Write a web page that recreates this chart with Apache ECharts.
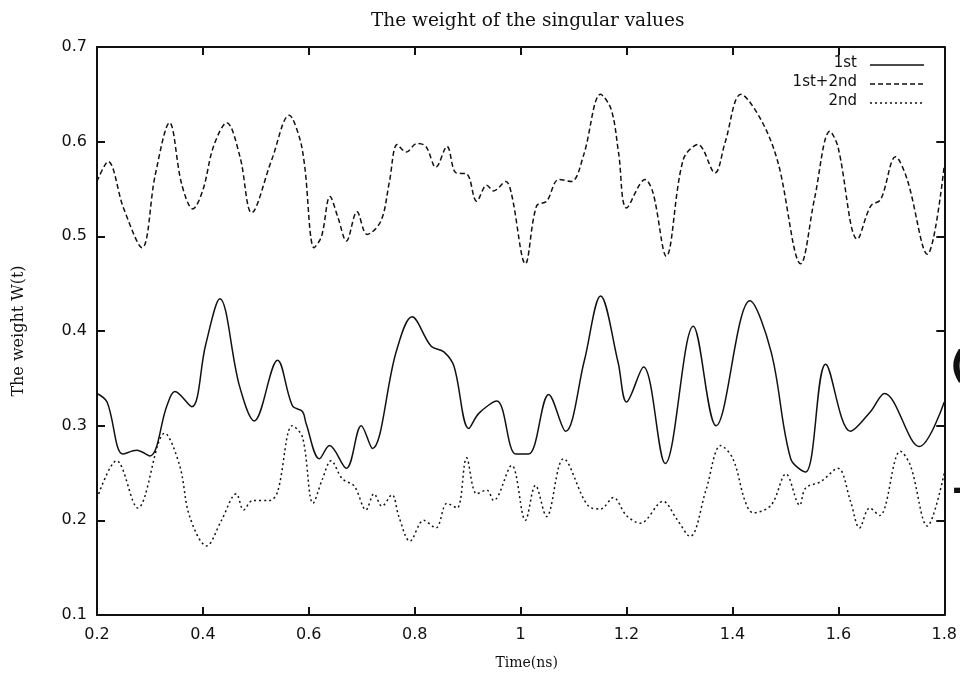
<!DOCTYPE html>
<html>
<head>
<meta charset="utf-8">
<script src="https://cdn.jsdelivr.net/npm/echarts@6/dist/echarts.min.js"></script>
<style>
  html, body { margin: 0; padding: 0; background: #fff; }
  #chart { width: 960px; height: 675px; }
</style>
</head>
<body>
<div id="chart"></div>
<script>
// Time samples (ns) and weights for each curve
const tSum = [0.2, 0.221, 0.25, 0.285, 0.31, 0.337, 0.36, 0.381, 0.4, 0.42, 0.445, 0.47, 0.492, 0.53, 0.563, 0.582, 0.592, 0.61, 0.624, 0.64, 0.655, 0.671, 0.691, 0.71, 0.736, 0.752, 0.767, 0.784, 0.804, 0.821, 0.84, 0.861, 0.878, 0.898, 0.917, 0.936, 0.949, 0.972, 0.983, 1.009, 1.03, 1.049, 1.072, 1.096, 1.119, 1.151, 1.171, 1.185, 1.2, 1.235, 1.25, 1.275, 1.307, 1.335, 1.367, 1.386, 1.416, 1.454, 1.486, 1.529, 1.555, 1.584, 1.599, 1.636, 1.661, 1.68, 1.708, 1.73, 1.768, 1.8];
const wSum = [0.558, 0.579, 0.53, 0.488, 0.565, 0.62, 0.555, 0.529, 0.549, 0.595, 0.62, 0.584, 0.525, 0.581, 0.628, 0.605, 0.575, 0.488, 0.5, 0.542, 0.52, 0.495, 0.526, 0.502, 0.516, 0.557, 0.597, 0.589, 0.598, 0.595, 0.573, 0.595, 0.567, 0.566, 0.537, 0.554, 0.548, 0.558, 0.544, 0.471, 0.532, 0.537, 0.56, 0.558, 0.586, 0.65, 0.634, 0.588, 0.53, 0.56, 0.546, 0.479, 0.581, 0.597, 0.567, 0.599, 0.65, 0.623, 0.578, 0.471, 0.54, 0.611, 0.595, 0.497, 0.532, 0.539, 0.584, 0.56, 0.481, 0.575];

const tFirst = [0.2, 0.219, 0.249, 0.275, 0.3, 0.332, 0.347, 0.379, 0.405, 0.432, 0.469, 0.497, 0.541, 0.569, 0.588, 0.595, 0.62, 0.639, 0.671, 0.699, 0.72, 0.765, 0.795, 0.831, 0.855, 0.874, 0.902, 0.921, 0.955, 0.991, 1.015, 1.053, 1.085, 1.12, 1.151, 1.184, 1.2, 1.232, 1.273, 1.326, 1.369, 1.433, 1.473, 1.51, 1.538, 1.576, 1.623, 1.661, 1.687, 1.753, 1.8];
const wFirst = [0.334, 0.325, 0.27, 0.274, 0.268, 0.321, 0.336, 0.32, 0.385, 0.434, 0.342, 0.305, 0.369, 0.321, 0.315, 0.302, 0.265, 0.279, 0.255, 0.3, 0.276, 0.378, 0.415, 0.384, 0.378, 0.363, 0.297, 0.313, 0.326, 0.27, 0.27, 0.333, 0.294, 0.368, 0.437, 0.367, 0.325, 0.362, 0.26, 0.405, 0.3, 0.432, 0.378, 0.265, 0.251, 0.365, 0.294, 0.315, 0.334, 0.278, 0.325];

const tSecond = [0.2, 0.237, 0.277, 0.328, 0.356, 0.375, 0.407, 0.435, 0.463, 0.477, 0.494, 0.526, 0.541, 0.569, 0.588, 0.608, 0.626, 0.642, 0.663, 0.686, 0.708, 0.723, 0.738, 0.757, 0.77, 0.791, 0.817, 0.84, 0.861, 0.88, 0.898, 0.917, 0.936, 0.949, 0.983, 1.009, 1.028, 1.049, 1.081, 1.128, 1.151, 1.175, 1.2, 1.226, 1.269, 1.294, 1.32, 1.35, 1.378, 1.401, 1.424, 1.439, 1.473, 1.501, 1.527, 1.538, 1.567, 1.599, 1.623, 1.64, 1.659, 1.678, 1.717, 1.736, 1.768, 1.8];
const wSecond = [0.223, 0.263, 0.213, 0.292, 0.258, 0.204, 0.173, 0.2, 0.228, 0.211, 0.221, 0.221, 0.23, 0.3, 0.288, 0.218, 0.244, 0.263, 0.244, 0.236, 0.211, 0.228, 0.215, 0.227, 0.204, 0.178, 0.2, 0.192, 0.218, 0.213, 0.266, 0.228, 0.232, 0.221, 0.258, 0.2, 0.237, 0.204, 0.265, 0.215, 0.212, 0.224, 0.205, 0.197, 0.22, 0.202, 0.183, 0.232, 0.279, 0.265, 0.22, 0.208, 0.216, 0.249, 0.216, 0.234, 0.241, 0.255, 0.22, 0.192, 0.213, 0.205, 0.273, 0.258, 0.194, 0.25];

const seriesNames = ['1st', '1st+2nd', '2nd'];
const dashFor = { '1st': 'solid', '1st+2nd': [5, 3], '2nd': [2, 3] };

const zip = (t, w) => t.map((x, i) => [x, w[i]]);
const ink = '#111';
const tickFmt = v => String(+v.toFixed(1));

const chart = echarts.init(document.getElementById('chart'));

function lineSeries(name, t, w) {
  return {
    name: name,
    type: 'line',
    data: zip(t, w),
    showSymbol: false,
    smooth: 0.35,
    lineStyle: { color: ink, width: 1.5, type: dashFor[name] },
    animation: false
  };
}

// legend block: label right-aligned, sample line to its right
const legendGraphics = [];
seriesNames.forEach((name, i) => {
  const y = 65 + i * 19;
  legendGraphics.push({
    type: 'text', right: 960 - 857, top: y - 9,
    style: { text: name, font: '15px "DejaVu Sans"', fill: ink, textAlign: 'right' }
  });
  legendGraphics.push({
    type: 'line',
    shape: { x1: 870, y1: y, x2: 924, y2: y },
    style: { stroke: ink, lineWidth: 1.3, lineDash: name === '1st' ? null : dashFor[name] }
  });
});

const baseX = {
  type: 'value', min: 0.2, max: 1.8, interval: 0.2,
  axisLine: { show: true, onZero: false, lineStyle: { color: ink, width: 2 } },
  axisTick: { show: true, inside: true, length: 8, lineStyle: { color: ink, width: 2 } },
  splitLine: { show: false }
};
const baseY = {
  type: 'value', min: 0.1, max: 0.7, interval: 0.1,
  axisLine: { show: true, onZero: false, lineStyle: { color: ink, width: 2 } },
  axisTick: { show: true, inside: true, length: 8, lineStyle: { color: ink, width: 2 } },
  splitLine: { show: false }
};

chart.setOption({
  backgroundColor: '#fff',
  animation: false,
  title: {
    text: 'The weight of the singular values',
    left: 366, top: 7,
    textStyle: { fontFamily: 'DejaVu Serif', fontSize: 18.5, fontWeight: 'normal', color: ink }
  },
  grid: { left: 97, right: 13, top: 47, bottom: 58 },
  xAxis: [
    Object.assign({}, baseX, {
      position: 'bottom',
      axisLabel: { color: ink, fontFamily: 'DejaVu Sans', fontSize: 16, margin: 12, formatter: tickFmt },
      name: 'Time(ns)', nameLocation: 'middle', nameGap: 41,
      nameTextStyle: { fontFamily: 'DejaVu Serif', fontSize: 14, color: ink, padding: [0, 0, 0, 12] }
    }),
    Object.assign({}, baseX, { position: 'top', axisLabel: { show: false } })
  ],
  yAxis: [
    Object.assign({}, baseY, {
      position: 'left',
      axisLabel: { color: ink, fontFamily: 'DejaVu Sans', fontSize: 16, margin: 10, formatter: tickFmt },
      name: 'The weight W(t)', nameLocation: 'middle', nameGap: 70, nameRotate: 90,
      nameTextStyle: { fontFamily: 'DejaVu Serif', fontSize: 16, color: ink }
    }),
    Object.assign({}, baseY, { position: 'right', axisLabel: { show: false } })
  ],
  series: [
    lineSeries('1st', tFirst, wFirst),
    lineSeries('1st+2nd', tSum, wSum),
    lineSeries('2nd', tSecond, wSecond)
  ],
  graphic: legendGraphics.concat([
    { type: 'text', left: 950, top: 348, style: { text: '(', font: 'bold 38px "DejaVu Sans"', fill: ink } },
    { type: 'text', left: 952, top: 472, style: { text: '-', font: 'bold 38px "DejaVu Sans"', fill: ink } }
  ])
});
</script>
</body>
</html>
